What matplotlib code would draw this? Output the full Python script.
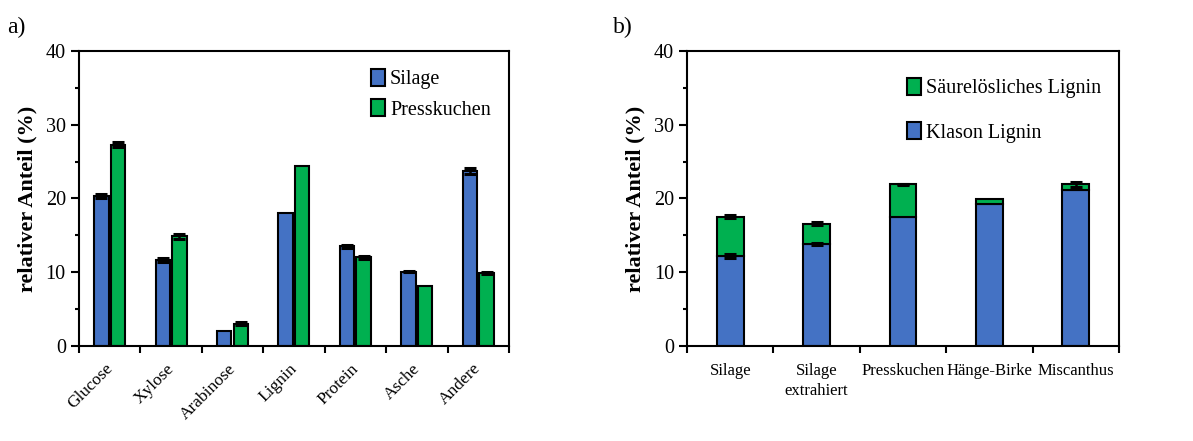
import numpy as np
import matplotlib
matplotlib.use("Agg")
import matplotlib.pyplot as plt
from matplotlib.ticker import MultipleLocator, FixedLocator

plt.rcParams['font.family'] = ['Liberation Serif', 'DejaVu Serif']

# panel a: composition of silage vs press cake
komponenten = ['Glucose', 'Xylose', 'Arabinose', 'Lignin', 'Protein', 'Asche', 'Andere']
silage = [20.3, 11.7, 2.0, 18.1, 13.5, 10.1, 23.7]
silage_err = [0.3, 0.25, 0.0, 0.0, 0.25, 0.1, 0.4]
presskuchen = [27.3, 14.9, 3.05, 24.4, 12.0, 8.2, 9.9]
presskuchen_err = [0.35, 0.35, 0.15, 0.0, 0.2, 0.0, 0.2]

# panel b: lignin fractions per material
materialien = ['Silage', 'Silage\nextrahiert', 'Presskuchen', 'Hänge-Birke', 'Miscanthus']
klason = [12.2, 13.8, 17.5, 19.3, 21.1]
klason_err = [0.3, 0.15, 0.0, 0.0, 0.0]
saeureloeslich = [5.3, 2.8, 4.4, 0.6, 0.8]
gesamt_err = [0.2, 0.2, 0.1, 0.0, 0.4]

blau = '#4472C4'
gruen = '#00B050'

fig = plt.figure(figsize=(11.93, 4.41), dpi=100)
ax1 = fig.add_axes([0.0662, 0.2154, 0.3604, 0.669])
ax2 = fig.add_axes([0.5759, 0.2154, 0.3621, 0.669])

err_kw = dict(fmt='none', ecolor='black', elinewidth=1.8, capsize=4, capthick=2.2, zorder=3)


def fehlerbalken(ax, xs, ys, errs):
    # only draw error bars where a deviation was measured
    xs, ys, errs = np.asarray(xs), np.asarray(ys), np.asarray(errs)
    m = errs > 0
    ax.errorbar(xs[m], ys[m], yerr=errs[m], **err_kw)


x = np.arange(len(komponenten))
w = 0.235
ax1.bar(x - 0.135, silage, w, color=blau, edgecolor='black', linewidth=1.5, label='Silage')
ax1.bar(x + 0.135, presskuchen, w, color=gruen, edgecolor='black', linewidth=1.5,
        label='Presskuchen')
fehlerbalken(ax1, x - 0.135, silage, silage_err)
fehlerbalken(ax1, x + 0.135, presskuchen, presskuchen_err)
ax1.set_xlim(-0.5, len(komponenten) - 0.5)
ax1.xaxis.set_major_locator(FixedLocator(np.arange(len(komponenten) + 1) - 0.5))
ax1.set_xticklabels([])
for i, name in enumerate(komponenten):
    ax1.text(i + 0.1, -2.0, name, rotation=45, ha='right', va='top', fontsize=12.5)
ax1.legend(loc='upper right', fontsize=14.5, frameon=False, handlelength=0.7,
           handleheight=0.9, handletextpad=0.25, labelspacing=0.5,
           bbox_to_anchor=(1.0, 1.0))

xb = np.arange(len(materialien))
wb = 0.31
gesamt = np.add(klason, saeureloeslich)
ax2.bar(xb, klason, wb, color=blau, edgecolor='black', linewidth=1.5, label='Klason Lignin')
ax2.bar(xb, saeureloeslich, wb, bottom=klason, color=gruen, edgecolor='black',
        linewidth=1.5, label='Säurelösliches Lignin')
fehlerbalken(ax2, xb, klason, klason_err)
fehlerbalken(ax2, xb, gesamt, gesamt_err)
ax2.set_xlim(-0.5, len(materialien) - 0.5)
ax2.xaxis.set_major_locator(FixedLocator(np.arange(len(materialien) + 1) - 0.5))
ax2.set_xticklabels([])
for i, name in enumerate(materialien):
    ax2.text(i, -2.3, name, ha='center', va='top', fontsize=12, linespacing=1.3)
h, l = ax2.get_legend_handles_labels()
ax2.legend(h[::-1], l[::-1], loc='upper right', fontsize=14.5, frameon=False,
           handlelength=0.7, handleheight=0.9, handletextpad=0.25, labelspacing=1.2,
           bbox_to_anchor=(1.0, 0.97))

for ax in (ax1, ax2):
    ax.set_ylim(0, 40)
    ax.yaxis.set_major_locator(MultipleLocator(10))
    ax.yaxis.set_minor_locator(MultipleLocator(5))
    ax.tick_params(axis='y', which='major', direction='out', length=6, width=1.5,
                   labelsize=14.5)
    ax.tick_params(axis='y', which='minor', direction='out', length=3, width=1.5)
    ax.tick_params(axis='x', which='major', direction='out', length=5, width=1.5)
    for s in ax.spines.values():
        s.set_linewidth(1.5)
    ax.set_ylabel('relativer Anteil (%)', fontsize=16, fontweight='bold', labelpad=6)

fig.text(0.006, 0.925, 'a)', fontsize=17)
fig.text(0.514, 0.925, 'b)', fontsize=17)

fig.savefig('out.png', dpi=100)
